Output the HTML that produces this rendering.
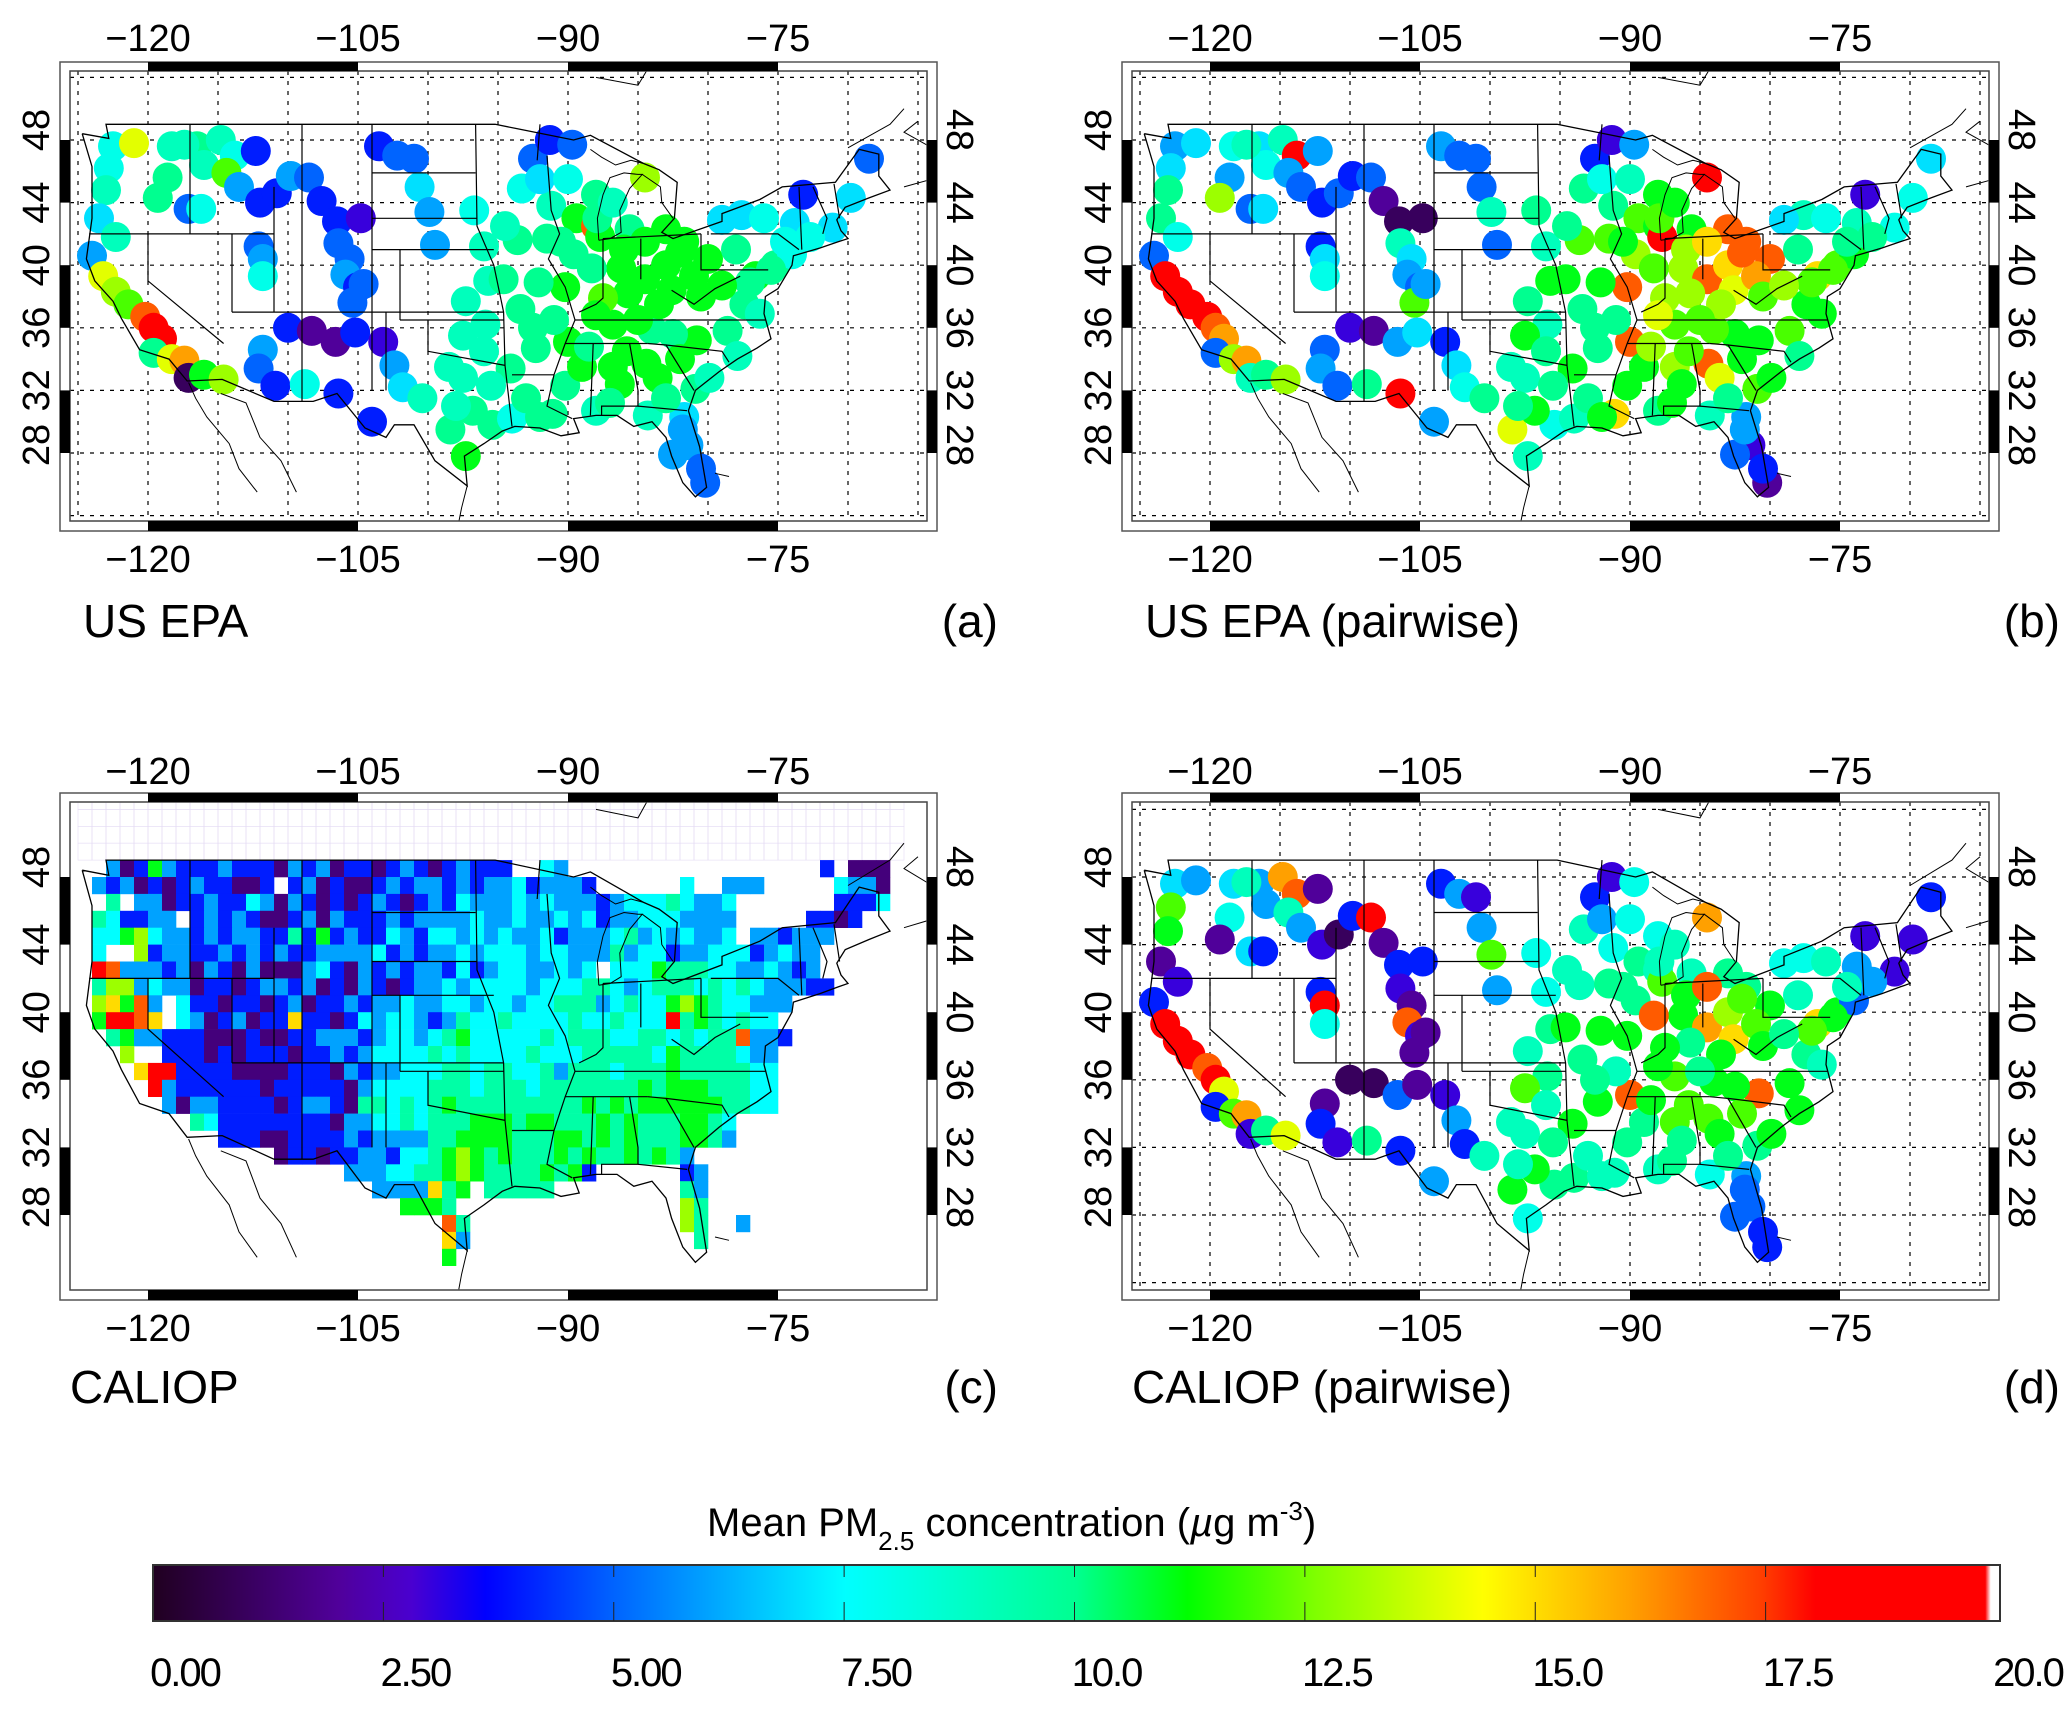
<!DOCTYPE html>
<html><head><meta charset="utf-8">
<style>
html,body{margin:0;padding:0;background:#fff;}
svg{display:block;font-family:"Liberation Sans",sans-serif;}
</style></head>
<body>
<svg id="fig" width="2067" height="1709" viewBox="0 0 2067 1709" xmlns="http://www.w3.org/2000/svg">
<defs>
<linearGradient id="cmap" x1="0" x2="1" y1="0" y2="0">
<stop offset="0" stop-color="#200020"/>
<stop offset="0.1" stop-color="#50009a"/>
<stop offset="0.14" stop-color="#4a00d0"/>
<stop offset="0.18" stop-color="#0000ff"/>
<stop offset="0.25" stop-color="#0064ff"/>
<stop offset="0.375" stop-color="#00ffff"/>
<stop offset="0.5" stop-color="#00ff90"/>
<stop offset="0.56" stop-color="#00ff00"/>
<stop offset="0.63" stop-color="#80ff00"/>
<stop offset="0.72" stop-color="#ffff00"/>
<stop offset="0.8" stop-color="#ffa000"/>
<stop offset="0.87" stop-color="#ff4000"/>
<stop offset="0.9" stop-color="#ff0000"/>
<stop offset="0.992" stop-color="#ff0000"/>
<stop offset="0.995" stop-color="#ffffff"/>
<stop offset="1" stop-color="#ffffff"/>
</linearGradient>
</defs>
</svg>
<script>
// ---- data ----
const sites=[
[-122.5,47.6],[-121,47.8],[-122.8,46.2],[-123,44.8],[-123.5,43],[-122.3,41.8],[-124,40.6],[-123.2,39.3],[-122.3,38.3],[-121.4,37.5],
[-120.2,36.7],[-119.6,36],[-119,35.3],[-119.6,34.4],[-118.3,34],[-117.4,33.9],[-117.1,32.8],[-116,33],[-114.6,32.7],[-116.5,47.6],
[-114.8,48],[-113.8,47],[-112.3,47.3],[-116,46.4],[-114.4,45.9],[-113.5,45],[-118.6,45.6],[-117.1,43.6],[-119.3,44.3],[-116.2,43.6],
[-112,44],[-110.8,44.6],[-109.8,45.7],[-108.5,45.6],[-107.6,44.1],[-106.5,42.8],[-112.1,41.2],[-111.8,40.4],[-111.8,39.3],[-106.4,41.4],
[-105.6,40.4],[-105.9,39.4],[-105,38.6],[-105.4,37.6],[-104.8,43],[-103.5,47.6],[-102.2,47],[-101,46.8],[-100.6,45],[-99.9,43.4],
[-99.5,41.3],[-110,36],[-108.3,35.8],[-106.6,35.1],[-105.2,35.7],[-111.8,34.6],[-112.1,33.4],[-110.9,32.3],[-108.8,32.4],[-106.4,31.8],
[-103.2,35.1],[-102.4,33.6],[-101.8,32.2],[-104,30],[-98.4,29.5],[-97.3,27.8],[-95.4,29.8],[-94,30.2],[-97.5,32.8],[-96.8,30.7],
[-95.9,36.2],[-97.5,35.5],[-97.3,37.7],[-95.7,39],[-96,41.2],[-96.7,43.5],[-94.6,39.1],[-93.6,41.6],[-93.3,44.9],[-92.5,46.8],
[-91.3,48],[-89.7,47.7],[-90.2,38.6],[-91.2,43.8],[-89.4,43],[-88,42.5],[-87.7,41.8],[-88,44.5],[-86.2,39.8],[-85.6,42.3],
[-84.5,45.6],[-83,42.3],[-84.5,39.1],[-83,40],[-81.7,41.5],[-80,40.4],[-82.6,38.4],[-85.7,38.2],[-86.8,36.2],[-90,35.1],
[-92.3,34.7],[-90.2,32.3],[-91.1,30.5],[-88,30.7],[-86.8,33.5],[-84.4,33.7],[-84.3,30.4],[-81.7,30.3],[-81.4,28.5],[-82.5,27.9],
[-80.2,26.1],[-80.9,32.1],[-80.8,35.2],[-78.6,35.8],[-77.4,37.5],[-76.6,39.3],[-75.2,40],[-74,40.7],[-77.6,43.2],[-76,43],
[-73.8,42.7],[-71.1,42.4],[-72.7,41.8],[-73.2,44.5],[-69.8,44.3],[-68.5,46.8],[-79,42.9],[-82.5,35.6],[-87.5,37.9],[-89.6,40.7],
[-88.3,39.8],[-93.4,37.2],[-91.5,41.7],[-92.1,38.9],[-86.3,32.4],[-83.6,32.8],[-79.9,32.8],[-77.9,34.2],[-76.3,36.9],[-75.5,39.7],
[-100.4,31.5],[-94.1,33.4],[-95.5,32.3],[-118.3,47.6],[-117.4,47.7],[-104.6,38.8],[-77,38.9],[-81,39.3],[-84,35.9],[-87.9,43],
[-90.5,41.5],[-86,41],[-84.5,41.5],[-82,40.8],[-80.5,38],[-79,38.7],[-83.5,37.5],[-85,36.5],[-88,36.8],[-91,36.5],
[-92.5,36],[-89,33.5],[-88.5,34.8],[-85.8,34.5],[-82,34],[-83,31.5],[-87,31.2],[-93,31.5],[-92,30.3],[-96,34.5],
[-98.5,33.5],[-98,31],[-94.5,42.5],[-92,45.5],[-90,45.5],[-86.8,44],[-78,41],[-74.5,41.5],[-80.5,27],[-81.8,29.5]];
const valuesEPA=[8,14,8,9,7,9,6,14,13,12, 17,18,18,10,14,16,1,11,13,10, 9,8,4,9,12,6,10,5,10,8, 4,4,6,5,4,4,5,6,8,5,
5,6,4,5,3,4,5,5,7,6, 6,4,2,2,4,6,5,4,8,4, 3,6,7,4,10,11,10,8,9,10, 9,9,9,9,9,8,10,10,8,5,
4,5,11,9,11,17,11,10,11,10, 13,11,11,11,11,11,11,11,11,11, 10,10,10,9,11,11,9,7,6,6, 5,10,11,10,10,11,10,8,7,8,
7,7,8,4,7,5,7,10,12,10, 10,10,10,10,11,11,9,9,9,10, 9,10,9,9,9,5,10,11,10,10,
10,11,11,11,11,11,11,11,11,10, 10,11,10,11,11,10,10,10,10,9, 9,9,9,7,8,9,10,8,5,6];
const valuesEPAPair=[6,7,7,10,10,8,5,18,18,18, 18,17,16,5,13,16,9,10,13,7, 9,18,6,8,6,5,6,5,13,7, 4,5,4,5,2,1,4,7,8,9,
7,6,5,12,1,6,5,5,5,9, 5,3,2,6,7,5,6,5,10,18, 4,7,8,6,14,9,8,9,9,11, 9,11,10,11,9,10,11,12,10,4,
3,6,17,10,12,11,18,11,13,11, 18,17,17,15,17,17,14,13,12,17, 10,11,15,10,13,17,9,6,3,5, 2,12,11,12,11,15,12,11,9,8,
9,8,10,3,8,7,7,11,13,13, 12,10,12,11,11,14,11,10,11,12, 10,11,10,8,9,6,12,16,12,12,
11,13,15,17,12,13,13,12,14,10, 10,11,13,12,11,10,11,10,11,10, 9,10,10,8,9,11,10,10,4,6];
const valuesCALIOPPair=[7,6,12,11,2,3,4,18,19,18, 17,18,14,4,12,16,3,10,14,6, 16,17,2,6,9,6,8,7,2,4, 3,1,4,18,2,4,4,18,8,3,
2,17,3,2,4,4,6,3,6,12, 6,1,1,5,2,2,4,3,10,4, 3,6,4,6,11,8,10,10,9,11, 10,12,9,10,8,8,11,9,9,4,
3,8,11,8,10,9,12,8,11,9, 16,10,16,13,10,11,15,10,12,17, 11,10,9,9,12,12,8,6,5,5, 4,10,17,11,10,15,11,5,8,9,
6,3,6,3,3,4,8,11,11,10, 17,10,10,11,10,11,11,11,9,11, 9,11,10,7,9,2,12,12,11,9,
10,11,17,12,11,10,11,10,11,9, 10,10,11,12,12,10,10,9,9,9, 9,9,9,6,8,9,9,9,4,5];
// CALIOP 1x1 degree grid: row 0 = 49-48N, col 0 = 125-124W; digit -> gridLevels value, '.' = no data
const gridLevels=[1.5,4,6,7.5,9.5,11,13,15,17,19];
const gridRows=[
"..20152111"+"2111021201"+"1012101211"+"1..32....."+".........."+"...1.000",
".212010121"+"1001.12010"+"0121221212"+"2312221..."+"...3..222."+"....3220",
"..4.220112"+"1132021010"+"1210121322"+"2323222123"+"3343223..."+"....1113",
".431122.12"+"1210012021"+"1121222232"+"2322323122"+"3332222..."+"..1101..",
".335632212"+"1221141512"+"1132133232"+"3223122234"+"2323223.22"+"1222....",
".3..612211"+"2121211222"+"2312122323"+"3323322242"+"3312233312"+"322.....",
".982221202"+"1020002310"+"2121221312"+"3322323.33"+"3544433223"+"212.....",
".466232201"+"1012212010"+"2101223233"+"3323334432"+"3444343432"+"2211....",
".67582.311"+"0110120112"+"1223223323"+"3233444234"+"3356543322"+"2.......",
".59987.320"+"1201171101"+"3233212433"+"4333343343"+"3394543433"+"........",
"..45221110"+"0010011222"+"1233234533"+"3334344433"+"4434344822"+"1.......",
"...6..1110"+"1011101121"+"2333343433"+"3343334444"+"4354444322"+"........",
"....799111"+"1000011102"+"1223334434"+"4334244434"+"4454444433"+"........",
".....92111"+"1110111110"+"2333344434"+"4434444444"+"5455544433"+"........",
"......2022"+"1111012210"+"4434345444"+"4444445454"+"5555554433"+"........",
"........43"+"1111111102"+"2334344455"+"5455444545"+"4445543..."+"........",
".........."+"1110011112"+"1222244555"+"5444554545"+"4445542..."+"........",
".........."+"....011011"+"2213345654"+"5444545445"+"4542......"+"........",
".........."+".........2"+"2233445654"+"4445451..."+"...12....."+"........",
".........."+".........."+".2222745.4"+"4444......"+"...42....."+"........",
".........."+".........."+"...5554..."+".........."+"...64....."+"........",
".........."+".........."+"......84.."+".........."+"...64..2.."+"........",
".........."+".........."+"......72.."+".........."+"....4....."+"........",
".........."+".........."+"......5..."+".........."+".........."+"........"];
const lonTicks=[-120,-105,-90,-75];
const latTicks=[28,32,36,40,44,48];
const cbTicks=["0.00","2.50","5.00","7.50","10.0","12.5","15.0","17.5","20.0"];
const cbMin=0, cbMax=20;

// ---- geometry ----
const NS="http://www.w3.org/2000/svg";
const svg=document.getElementById('fig');
function mk(tag,attrs,parent){const e=document.createElementNS(NS,tag);for(const k in attrs)e.setAttribute(k,attrs[k]);(parent||svg).appendChild(e);return e;}
const panels=[
 {id:'a',ox:0,y48:140,ky:15.65,top:62,bot:531,title:'US  EPA',vals:valuesEPA,labTop:51,labBot:572,titleY:637},
 {id:'b',ox:1062,y48:140,ky:15.65,top:62,bot:531,title:'US  EPA (pairwise)',vals:valuesEPAPair,labTop:51,labBot:572,titleY:637},
 {id:'c',ox:0,y48:877,ky:16.9,top:793,bot:1300,title:'CALIOP',vals:null,labTop:784,labBot:1341,titleY:1403},
 {id:'d',ox:1062,y48:877,ky:16.9,top:793,bot:1300,title:'CALIOP (pairwise)',vals:valuesCALIOPPair,labTop:784,labBot:1341,titleY:1403}];
const stops=[[0,[32,0,32]],[0.1,[80,0,154]],[0.14,[74,0,208]],[0.18,[0,0,255]],[0.25,[0,100,255]],[0.375,[0,255,255]],[0.5,[0,255,144]],[0.56,[0,255,0]],[0.63,[128,255,0]],[0.72,[255,255,0]],[0.8,[255,160,0]],[0.87,[255,64,0]],[0.9,[255,0,0]],[1,[255,0,0]]];
function color(v){let t=Math.max(0,Math.min(0.999,(v-cbMin)/(cbMax-cbMin)));for(let i=1;i<stops.length;i++){if(t<=stops[i][0]){const a=stops[i-1],b=stops[i];const f=(t-a[0])/(b[0]-a[0]);const c=a[1].map((x,j)=>Math.round(x+(b[1][j]-x)*f));return 'rgb('+c.join(',')+')';}}return 'red';}

const coast=[[-124.7,48.4],[-124,46.3],[-124,43],[-124.4,40.4],[-123.8,39],[-122.5,37.7],[-121.9,36.6],[-120.6,34.6],[-118.5,34],[-117.2,32.6],[-114.7,32.7],[-111,31.3],[-108.2,31.3],[-106.5,31.8],[-104.5,29.6],[-103,29],[-102.4,29.8],[-101,29.8],[-99.5,27.5],[-97.2,25.9],[-97.4,27.8],[-96,28.6],[-94.7,29.4],[-93.8,29.7],[-92,29.6],[-90.5,29.1],[-89.2,29.3],[-89.6,30.2],[-88,30.4],[-86.5,30.4],[-85.3,29.7],[-84,30],[-83,29],[-82.6,27.8],[-81.8,26.1],[-80.9,25.2],[-80.1,25.8],[-80.6,28.4],[-81.4,30.7],[-80.9,32],[-79.2,33.2],[-77.9,34],[-76.5,34.7],[-75.5,35.3],[-76,36.9],[-75.9,38],[-75,38.5],[-74,40],[-73.9,40.6],[-72,41.1],[-70.7,41.5],[-70,41.7],[-70.5,42.2],[-70.8,42.9],[-70.2,43.7],[-68.5,44.3],[-67,44.8],[-67.8,45.7],[-67.8,47.1],[-69.2,47.4],[-70.9,45.3],[-74.7,45],[-76.3,44.2],[-79,43.3],[-79,42.8],[-82.5,41.7],[-83.3,42.1],[-82.4,43],[-82.2,45.3],[-83.5,46.1],[-84.6,46.5],[-88.4,48.3],[-89.6,48],[-95.2,49],[-123,49],[-122.8,48.1],[-124.7,48.4]];
const lakes=[[[-87.8,41.6],[-87.9,43],[-87.5,44.5],[-87,45.6],[-86,45.9],[-85,45.8],[-84.7,45.8],[-85.6,44.9],[-86.3,43.5],[-86.2,42.1],[-87,41.7],[-87.8,41.6]],[[-84.7,45.8],[-83.4,45],[-83.3,44],[-82.5,43]],[[-84.6,46.5],[-85.5,46.7],[-86.6,46.4],[-87.6,46.9],[-88.4,47.4]]];
const other=[[[-117.1,32.5],[-116.6,31.5],[-115.8,30.3],[-114.2,28.6],[-113.5,27],[-112.2,25.5]],[[-114.8,31.8],[-113,31.2],[-112,29],[-110.5,27.5],[-109.4,25.5]],[[-97.2,25.9],[-97.6,24.5],[-97.8,23.6]],[[-80.3,23.2],[-78,22.8]],[[-79.5,26.7],[-78.5,26.5]],[[-66,45],[-64,45.5],[-61,45.5],[-60,46.5],[-64,47.5],[-66,48.5],[-65,49.2]],[[-70,47.5],[-67,49],[-66,50]],[[-88,52],[-85,51.5],[-84,53]]];
const states=[[[-124.2,42],[-111,42]],[[-117,49],[-117,42]],[[-120,42],[-120,39],[-114.6,35]],[[-114,42],[-114,37]],[[-111,45],[-111,37]],[[-109,49],[-109,31.3]],[[-104,49],[-104,32]],[[-114,37],[-94.6,37]],[[-104,45.9],[-96.6,45.9]],[[-104,43],[-96.5,43]],[[-104,41],[-95.3,41]],[[-102,41],[-102,36.5]],[[-103,37],[-103,32]],[[-102,36.5],[-94.6,36.5]],[[-100,36.5],[-100,34.5],[-94.5,33.6]],[[-96.6,49],[-96.5,42.5],[-95.3,40],[-94.6,37],[-94.5,33.6],[-94,29.7]],[[-91.5,47],[-91.2,43.5],[-90.6,42],[-91.4,40.4],[-90.2,38.6],[-89.5,36.5],[-90.2,35],[-91,33],[-91.5,31],[-89.7,30.2]],[[-94,33],[-91,33]],[[-89.5,36.5],[-75.9,36.5]],[[-90.2,35],[-84.3,35]],[[-88.2,35],[-88.4,30.4]],[[-85.6,35],[-85,32],[-85,31],[-87.6,31],[-87.6,30.4]],[[-85,31],[-81.5,30.7]],[[-87.5,41.7],[-87.5,37.9],[-88,37.5],[-89.2,37]],[[-84.8,41.7],[-84.8,39.1]],[[-87.5,41.7],[-80.5,42]],[[-80.5,42],[-80.5,39.7],[-75.7,39.7]],[[-79.8,42],[-75,42],[-73.5,41]],[[-82.6,38.4],[-81,37.5],[-79.5,38.5],[-77.7,39.3]],[[-84.3,35],[-83,34.9],[-81,32]],[[-83,34.9],[-79,34.5],[-78.5,33.8]],[[-73.5,45],[-73.3,41]],[[-72.5,45],[-71.5,43],[-71.8,42]],[[-71,45.2],[-70.6,43]],[[-92.2,46.7],[-92,49]]];

function drawPanel(p){
  const g=mk('g',{});
  
  
  const X=lon=>p.ox+148+(lon+120)*14;
  const Y=lat=>p.y48+(48-lat)*p.ky;
  const L=p.ox+60,R=p.ox+937,IL=p.ox+70,IR=p.ox+927,IT=p.top+9,IB=p.bot-10;
  const cp=mk('clipPath',{id:'clip'+p.id},g);
  mk('rect',{x:IL,y:IT,width:IR-IL,height:IB-IT},cp);
  const body=mk('g',{'clip-path':'url(#clip'+p.id+')'},g);
  
  
  if(p.vals){
    for(let lon=-125;lon<=-65;lon+=5){const l=mk('line',{x1:X(lon),x2:X(lon),y1:IT,y2:IB,stroke:'#000','stroke-width':1.2,'stroke-dasharray':'4,6'},body);
      
      }
    for(let lat=24;lat<=52;lat+=4){const l=mk('line',{x1:IL,x2:IR,y1:Y(lat),y2:Y(lat),stroke:'#000','stroke-width':1.2,'stroke-dasharray':'4,6'},body);
      
      }
    for(let i=0;i<sites.length;i++){const v=p.vals[i];if(v==null)continue;
      const c=mk('ellipse',{cx:X(sites[i][0]),cy:Y(sites[i][1]),rx:15,ry:15,fill:color(v)},body);
      
      }
  } else {
    for(let lat=53;lat>49;lat--){for(let lon=-125;lon<-66;lon++){const r=mk('rect',{x:X(lon),y:Y(lat),width:14,height:p.ky,fill:'none',stroke:'#e4dcf4','stroke-width':0.6},body);
      
      }}
    for(let r=0;r<gridRows.length;r++){const row=gridRows[r];for(let c=0;c<row.length;c++){const ch=row[c];if(ch==='.')continue;
      const v=gridLevels[parseInt(ch)];
      const cell=mk('rect',{x:X(-125+c),y:Y(49-r),width:14.3,height:p.ky+0.3,fill:color(v)},body);
      
      }}
  }
  const path=pts=>'M'+pts.map(q=>X(q[0]).toFixed(1)+','+Y(q[1]).toFixed(1)).join('L');
  const cl=mk('path',{d:path(coast),fill:'none',stroke:'#000','stroke-width':1.3},body);
  
  
  lakes.concat(other).forEach(s=>{const e=mk('path',{d:path(s),fill:'none',stroke:'#000','stroke-width':1},body);
    
    });
  states.forEach(s=>{const e=mk('path',{d:path(s),fill:'none',stroke:'#000','stroke-width':1.2},body);
    
    });
  const of=mk('rect',{x:L,y:p.top,width:R-L,height:p.bot-p.top,fill:'none',stroke:'#555','stroke-width':1.5},g);
  
  
  const inf=mk('rect',{x:IL,y:IT,width:IR-IL,height:IB-IT,fill:'none',stroke:'#444','stroke-width':1.5},g);
  
  
  for(let i=0;i<lonTicks.length;i+=2){const x1=X(lonTicks[i]),x2=X(lonTicks[i+1]);
    [[p.top,IT],[IB,p.bot]].forEach(yy=>{const b=mk('rect',{x:x1,y:yy[0],width:x2-x1,height:yy[1]-yy[0],fill:'#000'},g);
      
      });}
  for(let i=0;i<latTicks.length;i+=2){const y1=Y(latTicks[i+1]),y2=Y(latTicks[i]);
    [[L,IL],[IR,R]].forEach(xx=>{const b=mk('rect',{x:xx[0],y:y1,width:xx[1]-xx[0],height:y2-y1,fill:'#000'},g);
      
      });}
  lonTicks.forEach(t=>{[p.labTop,p.labBot].forEach(yb=>{const tx=mk('text',{x:X(t),y:yb,'font-size':38,'text-anchor':'middle',fill:'#000'},g);
    tx.textContent='\u2212'+Math.abs(t);
    
    });});
  latTicks.forEach(t=>{
    const yl=Y(t)-(t===48?10:0)+(t===28?-8:0);
    const a=mk('text',{x:0,y:0,'font-size':38,'text-anchor':'middle',fill:'#000',transform:'translate('+(p.ox+49)+','+yl+') rotate(-90)'},g);
    a.textContent=String(t);
    
    
    const b=mk('text',{x:0,y:0,'font-size':38,'text-anchor':'middle',fill:'#000',transform:'translate('+(p.ox+947)+','+yl+') rotate(90)'},g);
    b.textContent=String(t);
    
    
  });
  const tt=mk('text',{x:p.ox+(p.id==='a'||p.id==='b'?83:70),y:p.titleY,'font-size':46,fill:'#000'},g);
  tt.textContent=p.title;
  
  
  const lt=mk('text',{x:p.ox+998,y:p.titleY,'font-size':46,'text-anchor':'end',fill:'#000'},g);
  lt.textContent='('+p.id+')';
  
  
}
panels.forEach(drawPanel);

// ---- colorbar ----
const cbX0=153,cbX1=2000,cbY0=1565,cbY1=1621;
const cb=mk('g',{});


const bar=mk('rect',{x:cbX0,y:cbY0,width:cbX1-cbX0,height:cbY1-cbY0,fill:'url(#cmap)',stroke:'#333','stroke-width':2},cb);


const cbStep=(cbX1-cbX0-4)/(cbTicks.length-1);
cbTicks.forEach((t,i)=>{const x=cbX0+i*cbStep;
  if(i>0&&i<cbTicks.length-1){
    const t1=mk('line',{x1:x,x2:x,y1:cbY0,y2:cbY0+12,stroke:'#222','stroke-width':1},cb);
    
    
    const t2=mk('line',{x1:x,x2:x,y1:cbY1-19,y2:cbY1,stroke:'#222','stroke-width':1},cb);
    
    }
  const tx=mk('text',{x:x+32,y:1686,'font-size':40,'text-anchor':'middle',fill:'#000','letter-spacing':'-2'},cb);
  tx.textContent=t;
  
  
});
const ct=mk('text',{x:707,y:1536,'font-size':40,fill:'#000'},cb);


ct.innerHTML='Mean PM<tspan font-size="26" dy="14">2.5</tspan><tspan dy="-14">  concentration (</tspan><tspan font-style="italic">µ</tspan><tspan>g  m</tspan><tspan font-size="26" dy="-16">-3</tspan><tspan dy="16">)</tspan>';
</script>
</body></html>
